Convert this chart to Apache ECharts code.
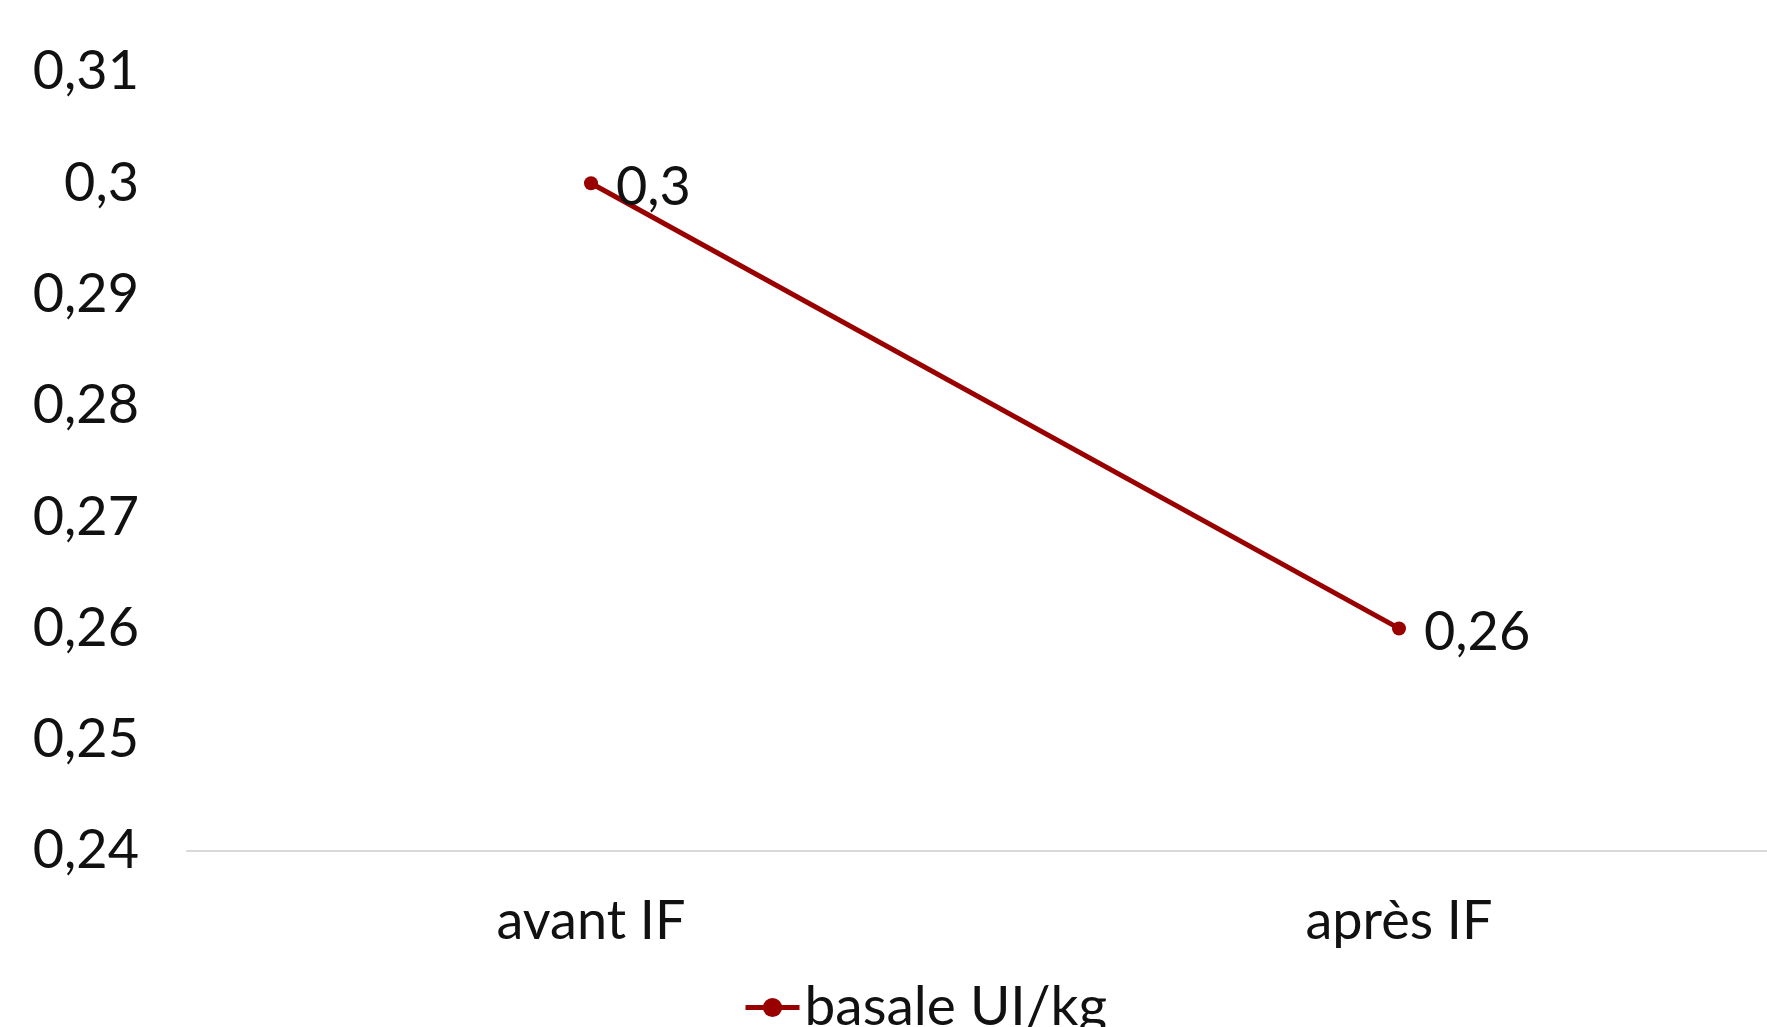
<!DOCTYPE html>
<html>
<head>
<meta charset="utf-8">
<script src="https://cdn.jsdelivr.net/npm/echarts@6/dist/echarts.min.js"></script>
<style>
  html, body { margin: 0; padding: 0; background: #fff; overflow: hidden; }
  #chart { width: 1803px; height: 1027px; }
</style>
</head>
<body>
<div id="chart"></div>
<script>
// Basal insulin dose before / after IF
const categories = ['avant IF', 'après IF'];
const seriesName = 'basale UI/kg';
const basaleValues = [0.30, 0.26];
const yMin = 0.24;
const yMax = 0.31;
const yStep = 0.01;

const FONT = 'Lato';
const fmtComma = v => String(parseFloat(Number(v).toFixed(2))).replace('.', ',');

const chart = echarts.init(document.getElementById('chart'), null, { renderer: 'canvas' });
chart.setOption({
  backgroundColor: '#ffffff',
  animation: false,
  textStyle: { fontFamily: FONT },
  grid: { left: 187, right: 0, top: 72, bottom: 176, containLabel: false },
  legend: {
    data: [seriesName],
    bottom: -13,
    left: 738,
    itemWidth: 54,
    itemHeight: 24,
    itemGap: 10,
    lineStyle: { width: 5 },
    textStyle: { fontFamily: FONT, fontSize: 55, color: '#111' }
  },
  xAxis: {
    type: 'category',
    data: categories,
    boundaryGap: true,
    axisLine: { show: true, lineStyle: { color: '#d9d9d9', width: 2 } },
    axisTick: { show: false },
    axisLabel: { fontFamily: FONT, fontSize: 54, color: '#111', margin: 44 },
    splitLine: { show: false }
  },
  yAxis: {
    type: 'value',
    min: yMin,
    max: yMax,
    interval: yStep,
    axisLine: { show: false },
    axisTick: { show: false },
    splitLine: { show: false },
    axisLabel: {
      fontFamily: FONT, fontSize: 54, color: '#111', margin: 48,
      formatter: fmtComma
    }
  },
  series: [{
    name: seriesName,
    type: 'line',
    data: basaleValues,
    color: '#990000',
    lineStyle: { color: '#990000', width: 5 },
    itemStyle: { color: '#990000' },
    symbol: 'circle',
    symbolSize: 14,
    label: {
      show: true,
      position: 'right',
      distance: 18,
      fontFamily: FONT,
      fontSize: 54,
      color: '#111',
      offset: [0, 4],
      formatter: p => fmtComma(p.value)
    }
  }]
});
</script>
</body>
</html>
